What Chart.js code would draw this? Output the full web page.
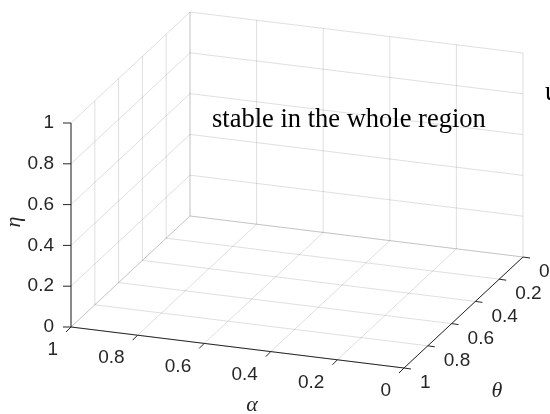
<!DOCTYPE html>
<html>
<head>
<meta charset="utf-8">
<script src="https://cdn.jsdelivr.net/npm/chart.js@4.4.1/dist/chart.umd.min.js"></script>
<style>
  body { margin: 0; background: #fff; }
  #wrap { width: 550px; height: 414px; }
</style>
</head>
<body>
<div id="wrap"><canvas id="chart" width="550" height="414"></canvas></div>
<script>
// tick values of the three axes
const alphaTicks = [0, 0.2, 0.4, 0.6, 0.8, 1]
const thetaTicks = [0, 0.2, 0.4, 0.6, 0.8, 1]
const etaTicks = [0, 0.2, 0.4, 0.6, 0.8, 1]
const alphaLabels = ['0', '0.2', '0.4', '0.6', '0.8', '1']
const thetaLabels = ['0', '0.2', '0.4', '0.6', '0.8', '1']
const etaLabels = ['0', '0.2', '0.4', '0.6', '0.8', '1']
const notes = ['stable in the whole region', 'unstable in the whole region']

// 3d box -> screen (alpha runs right to left, theta back to front, eta up)
const view = { ox: 523, oy: 257, ax: -333, ay: -41, tx: -119, ty: 111, ez: -204 }
function proj(a, t, e) {
    return { x: view.ox + a * view.ax + t * view.tx, y: view.oy + a * view.ay + t * view.ty + e * view.ez }
}

const gridColor = 'rgba(38,38,38,0.15)'
const axisColor = '#262626'
const datasets = []
function seg(p, q, color) {
    datasets.push({ data: [p, q], showLine: true, borderColor: color, borderWidth: 1, pointRadius: 0, clip: false })
}

// grid on floor, back wall and left wall
alphaTicks.forEach(a => {
    seg(proj(a, 0, 0), proj(a, 1, 0), gridColor)
    seg(proj(a, 0, 0), proj(a, 0, 1), gridColor)
})
thetaTicks.forEach(t => {
    seg(proj(0, t, 0), proj(1, t, 0), gridColor)
    seg(proj(1, t, 0), proj(1, t, 1), gridColor)
})
etaTicks.forEach(e => {
    seg(proj(0, 0, e), proj(1, 0, e), gridColor)
    seg(proj(1, 0, e), proj(1, 1, e), gridColor)
})

// axis lines + ticks
seg(proj(0, 1, 0), proj(1, 1, 0), axisColor)
seg(proj(0, 0, 0), proj(0, 1, 0), axisColor)
seg(proj(1, 1, 0), proj(1, 1, 1), axisColor)
alphaTicks.forEach(a => {
    const p = proj(a, 1, 0)
    seg(p, { x: p.x - 5, y: p.y + 5 }, axisColor)
})
thetaTicks.forEach(t => {
    const p = proj(0, t, 0)
    seg(p, { x: p.x + 7, y: p.y + 1 }, axisColor)
})
etaTicks.forEach(e => {
    const p = proj(1, 1, e)
    seg(p, { x: p.x - 8, y: p.y }, axisColor)
})

const labels3d = {
    id: 'labels3d',
    afterDatasetsDraw(chart) {
        const { ctx, scales: { x, y } } = chart
        const px = p => ({ x: x.getPixelForValue(p.x), y: y.getPixelForValue(p.y) })
        ctx.save()
        ctx.fillStyle = axisColor
        ctx.font = "19px 'Liberation Sans', Arial, sans-serif"
        ctx.textBaseline = 'middle'
        ctx.textAlign = 'right'
        alphaTicks.forEach((a, i) => {
            const p = px(proj(a, 1, 0))
            ctx.fillText(alphaLabels[i], p.x - 13, p.y + 23)
        })
        etaTicks.forEach((e, i) => {
            const p = px(proj(1, 1, e))
            ctx.fillText(etaLabels[i], p.x - 17, p.y)
        })
        ctx.textAlign = 'left'
        thetaTicks.forEach((t, i) => {
            const p = px(proj(0, t, 0))
            ctx.fillText(thetaLabels[i], p.x + 16, p.y + 15)
        })

        // axis names
        ctx.font = "italic 22px 'Liberation Serif', 'Times New Roman', serif"
        ctx.textAlign = 'center'
        ctx.textBaseline = 'alphabetic'
        ctx.fillText('α', 252, 411)
        ctx.fillText('θ', 497, 397)
        ctx.save()
        ctx.translate(20, 222)
        ctx.rotate(-Math.PI / 2)
        ctx.fillText('η', 0, 0)
        ctx.restore()

        // annotations
        ctx.fillStyle = '#000'
        ctx.font = "26.5px 'Liberation Serif', 'Times New Roman', serif"
        ctx.textAlign = 'left'
        ctx.fillText(notes[0], 212, 127)
        ctx.fillText(notes[1], 545, 100)
        ctx.restore()
    }
}

new Chart(document.getElementById('chart'), {
    type: 'scatter',
    data: { datasets },
    options: {
        animation: false,
        responsive: false,
        events: [],
        layout: { padding: 0 },
        plugins: { legend: { display: false }, tooltip: { enabled: false } },
        scales: {
            x: { type: 'linear', min: 0, max: 550, display: false },
            y: { type: 'linear', min: 0, max: 414, reverse: true, display: false }
        }
    },
    plugins: [labels3d]
})
</script>
</body>
</html>
